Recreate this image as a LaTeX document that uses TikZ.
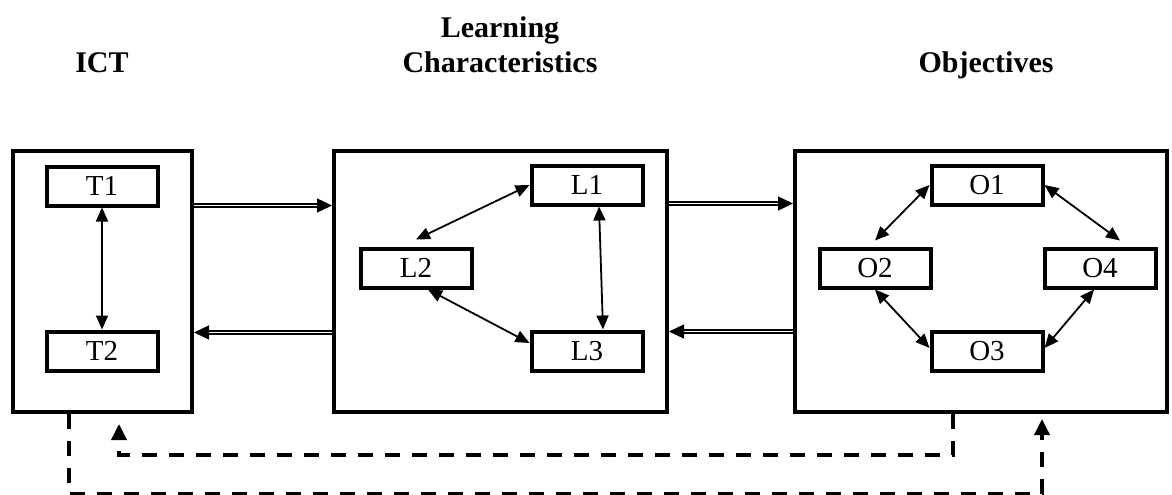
\documentclass[tikz,border=0pt]{standalone}
\usepackage{fontspec}
\setmainfont{Liberation Serif}
\usetikzlibrary{arrows.meta,positioning,calc}

\begin{document}
\begin{tikzpicture}[x=1pt,y=-1pt,
outerbox/.style={draw,line width=4pt,inner sep=0pt},
innerbox/.style={draw,line width=4pt,inner sep=0pt,minimum width=111pt,minimum height=39pt,font=\fontsize{29}{32}\selectfont},
title/.style={font=\fontsize{30}{35}\selectfont\bfseries,align=center,anchor=base},
link/.style={line width=1.8pt,{Triangle[length=14pt,width=12pt]}-{Triangle[length=14pt,width=12pt]}},
flow/.style={double,double distance=1.6pt,line width=1.4pt,-{Triangle[length=15pt,width=14pt]}},
loopback/.style={line width=3.5pt,dash pattern=on 15pt off 12pt,-{Triangle[length=16pt,width=15pt]}}]
\useasboundingbox (0,0) rectangle (1172,495);
% titles
\node[title] (tict) at (102,72) {ICT};
\node[title] (tlrn) at (500,72) {Learning\\Characteristics};
\node[title] (tobj) at (986,72) {Objectives};
% the three big boxes
\node[outerbox,minimum width=179pt,minimum height=261pt] (ict) at (102.5,281.5) {};
\node[outerbox,minimum width=333pt,minimum height=261pt] (lrn) at (500.5,281.5) {};
\node[outerbox,minimum width=372pt,minimum height=261pt] (obj) at (981,281.5) {};
% inner boxes
\node[innerbox] (T1) at (102,186) {T1};
\node[innerbox] (T2) at (102,351) {T2};
\node[innerbox] (L1) at (587,185) {L1};
\node[innerbox] (L2) at (416,268) {L2};
\node[innerbox] (L3) at (587,351) {L3};
\node[innerbox] (O1) at (987,185) {O1};
\node[innerbox] (O2) at (875,268) {O2};
\node[innerbox] (O4) at (1100,268) {O4};
\node[innerbox] (O3) at (987,351) {O3};
% two-way links
\draw[link] (T1.south) -- (T2.north);
\draw[link] (L1.west) -- ([yshift=7pt]L2.north);
\draw[link] ([xshift=12pt]L2.south) -- ([yshift=8pt]L3.west);
\draw[link] ([xshift=12pt]L1.south) -- ([xshift=16pt]L3.north);
\draw[link] (O1.west) -- ([yshift=6pt]O2.north);
\draw[link] (O1.east) -- ([xshift=20pt,yshift=6pt]O4.north);
\draw[link] (O2.south) -- ([yshift=3pt]O3.west);
\draw[link] ([xshift=-6pt]O4.south) -- ([yshift=3pt]O3.east);
% flows between the boxes
\draw[flow] ([yshift=76pt]ict.east) -- ([yshift=76pt]lrn.west);
\draw[flow] ([yshift=-51pt]lrn.west) -- ([yshift=-51pt]ict.east);
\draw[flow] ([yshift=78pt]lrn.east) -- ([yshift=78pt]obj.west);
\draw[flow] ([yshift=-50pt]obj.west) -- ([yshift=-50pt]lrn.east);
% dashed feedback
\draw[loopback] ([xshift=-33.5pt]ict.south) -- ++(0,80) -| ([xshift=61pt,yshift=-5pt]obj.south);
\draw[loopback] ([xshift=-28pt]obj.south) -- ++(0,41) -| ([xshift=16.5pt,yshift=-10pt]ict.south);
\end{tikzpicture}
\end{document}
